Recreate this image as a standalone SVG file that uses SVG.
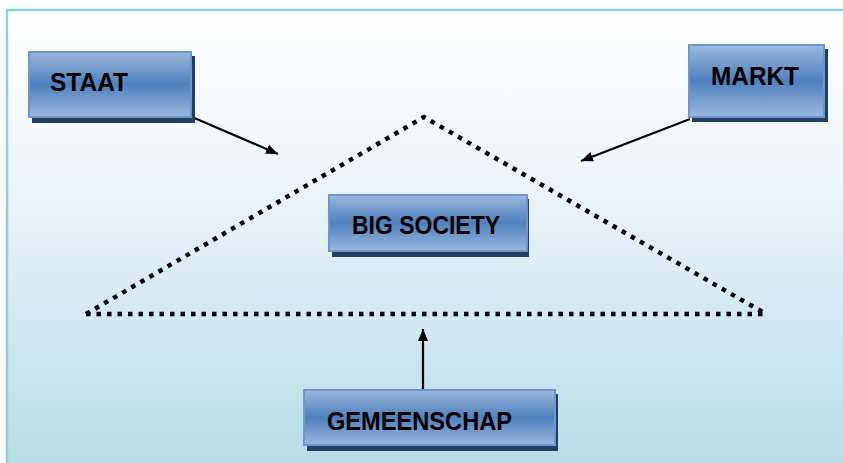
<svg xmlns="http://www.w3.org/2000/svg" width="843" height="463" viewBox="0 0 843 463">
<defs>
<linearGradient id="bg" x1="0" y1="0" x2="0" y2="1">
<stop offset="0" stop-color="#ffffff"/>
<stop offset="0.35" stop-color="#eef6f9"/>
<stop offset="1" stop-color="#b6dce6"/>
</linearGradient>
<linearGradient id="box" x1="0" y1="0" x2="0" y2="1">
<stop offset="0" stop-color="#9bb8dc"/>
<stop offset="0.5" stop-color="#4f80bd"/>
<stop offset="1" stop-color="#9bb8dc"/>
</linearGradient>
<marker id="ah" viewBox="0 0 12 10" refX="12" refY="5" markerWidth="12" markerHeight="10" markerUnits="userSpaceOnUse" orient="auto">
<path d="M0,0 L12,5 L0,10 Z" fill="#000"/>
</marker>
</defs>
<style>
.shadow{fill:#243f60}
.box{fill:url(#box);stroke:#6b97cf;stroke-width:2}
.lbl{font-family:"Liberation Sans",Arial,sans-serif;font-weight:bold;font-size:26px;fill:#000}
.dot{fill:none;stroke:#000;stroke-width:4.5;stroke-dasharray:4.5 6}
.arr{stroke:#000;stroke-width:2.2;fill:none;marker-end:url(#ah)}
</style>
<rect x="7" y="10" width="845" height="460" fill="url(#bg)" stroke="#92cfdd" stroke-width="2.5"/>
<g id="triangle">
<path class="dot" d="M86,314 L424,117 L766,314"/>
<path class="dot" d="M86,314 L766,314"/>
</g>
<g id="connectors">
<line class="arr" x1="192" y1="117" x2="278" y2="154"/>
<line class="arr" x1="690" y1="119" x2="581" y2="161"/>
<line class="arr" x1="423" y1="389" x2="423" y2="329"/>
</g>
<g id="staat">
<rect class="shadow" x="32" y="56" width="163" height="67"/>
<rect class="box" x="29" y="52" width="162" height="65"/>
<text class="lbl" x="50" y="91" textLength="78" lengthAdjust="spacingAndGlyphs">STAAT</text>
</g>
<g id="markt">
<rect class="shadow" x="692" y="49" width="136" height="73"/>
<rect class="box" x="689" y="45" width="135" height="72"/>
<text class="lbl" x="711" y="85" textLength="88" lengthAdjust="spacingAndGlyphs">MARKT</text>
</g>
<g id="bigsociety">
<rect class="shadow" x="332" y="199" width="197" height="58"/>
<rect class="box" x="329" y="195" width="198" height="56"/>
<text class="lbl" x="352" y="234" textLength="148" lengthAdjust="spacingAndGlyphs">BIG SOCIETY</text>
</g>
<g id="gemeenschap">
<rect class="shadow" x="307" y="394" width="251" height="57"/>
<rect class="box" x="304" y="390" width="251" height="55"/>
<text class="lbl" x="327" y="430" textLength="185" lengthAdjust="spacingAndGlyphs">GEMEENSCHAP</text>
</g>
</svg>
